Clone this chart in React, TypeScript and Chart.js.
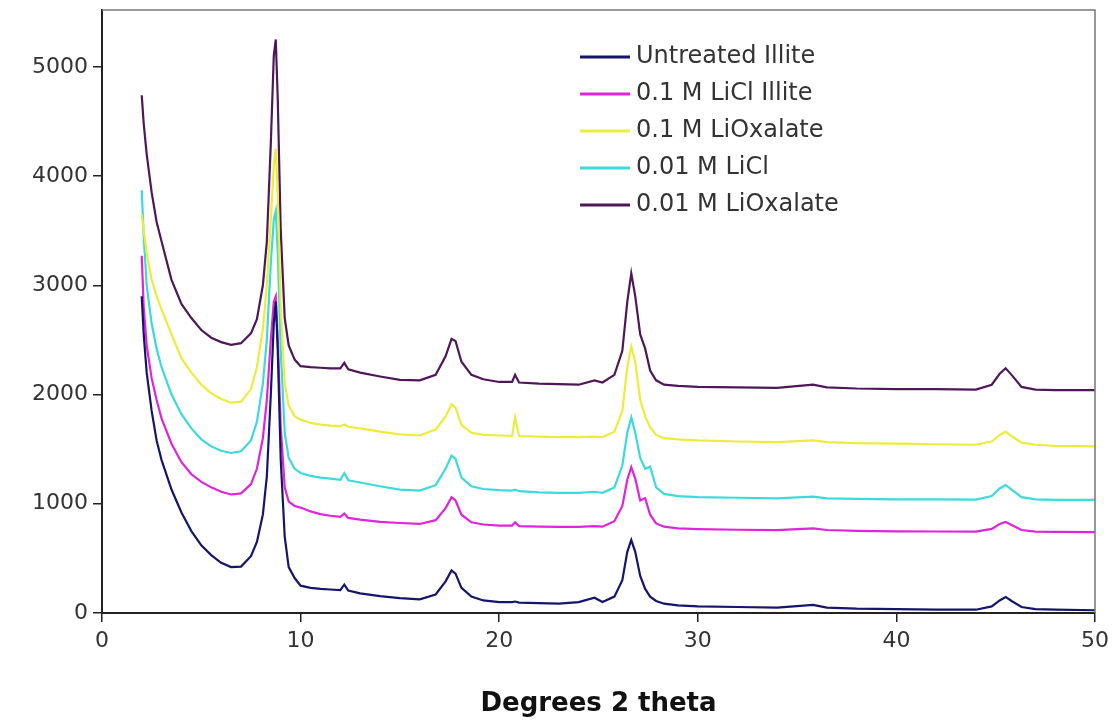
import React, { useEffect, useRef } from "react";
import { Chart, registerables } from "chart.js";

Chart.register(...registerables);

// Shared 2-theta sample positions
const theta = [
  2, 2.1, 2.25, 2.5, 2.75, 3, 3.5, 4, 4.5, 5,
  5.5, 6, 6.5, 7, 7.5, 7.8, 8.1, 8.3, 8.5, 8.65,
  8.75, 8.85, 9.0, 9.2, 9.4, 9.7, 10, 10.5, 11, 11.5,
  12, 12.2, 12.4, 13, 14, 15, 16, 16.8, 17.3, 17.6,
  17.8, 18.1, 18.6, 19.2, 20, 20.65, 20.8, 21, 22, 23,
  24, 24.8, 25.2, 25.8, 26.2, 26.45, 26.65, 26.85, 27.1, 27.35,
  27.6, 27.9, 28.3, 29, 30, 32, 34, 35.8, 36.5, 38,
  40, 42, 44, 44.8, 45.2, 45.5, 45.8, 46.3, 47, 48,
  50,
];

const untreatedIllite = [
  2900, 2550, 2200, 1850, 1580, 1400, 1130, 920, 750, 620,
  530, 460, 420, 425, 520, 650, 900, 1250, 2000, 2650,
  2850, 2400, 1400, 700, 420, 320, 250, 230, 220, 215,
  210, 260, 205, 180, 155, 137, 125, 170, 290, 390,
  360, 230, 150, 115, 100, 100, 105, 95, 90, 85,
  100, 140, 100, 150, 300, 560, 668, 560, 340, 220,
  150, 110, 85, 70, 60, 55, 50, 75, 50, 40,
  35, 30, 30, 60, 115, 147, 110, 55, 35, 30,
  25,
];

const liCl01Illite = [
  3270, 2800, 2450, 2150, 1950, 1780, 1550, 1380, 1270, 1200,
  1150, 1110, 1085, 1095, 1180, 1320, 1600, 1950, 2500, 2850,
  2900, 2500, 1700, 1150, 1020, 980, 965, 930, 905, 890,
  880, 910, 870, 855, 835, 824, 815, 850, 960, 1060,
  1030, 900, 830, 810, 800, 800, 830, 795, 790, 788,
  788, 795, 790, 840, 980, 1220, 1335, 1230, 1030, 1050,
  900, 820, 790, 775, 768, 762, 758, 775, 760, 752,
  748, 746, 745, 770, 815, 833, 805, 760, 745, 742,
  740,
];

const liOxalate01 = [
  3650, 3500, 3300, 3050, 2900, 2780, 2550, 2330, 2200, 2090,
  2010, 1960, 1925, 1935, 2050, 2250, 2600, 3000, 3600, 4100,
  4250, 3800, 2800, 2100, 1900, 1800, 1770, 1740, 1725, 1715,
  1710, 1725, 1705, 1690, 1660, 1635, 1625, 1680, 1800, 1910,
  1880, 1720, 1650, 1630, 1625, 1622, 1790, 1620, 1615, 1610,
  1610, 1615, 1610, 1660, 1850, 2250, 2440, 2300, 1950, 1800,
  1700, 1630, 1600, 1590, 1580, 1570, 1565, 1580, 1565, 1555,
  1550, 1545, 1540, 1570, 1630, 1660, 1620, 1560, 1540, 1530,
  1525,
];

const liCl001 = [
  3870, 3450, 3000, 2650, 2420, 2250, 2000, 1820, 1690, 1590,
  1525, 1485, 1465, 1480, 1580, 1750, 2100, 2500, 3200, 3600,
  3680, 3300, 2400, 1650, 1420, 1320, 1282, 1255, 1240, 1230,
  1220, 1280, 1215, 1195, 1160, 1130, 1120, 1170, 1320, 1440,
  1410, 1240, 1160, 1135, 1125, 1120, 1130, 1115, 1105, 1100,
  1099, 1110, 1100, 1150, 1350, 1650, 1790, 1650, 1420, 1320,
  1340, 1150, 1090, 1070, 1060, 1055, 1050, 1065, 1050, 1045,
  1040, 1040, 1038, 1070, 1140, 1172, 1130, 1060, 1040, 1035,
  1035,
];

const liOxalate001 = [
  4740, 4480, 4200, 3850, 3580, 3400, 3050, 2830, 2700, 2590,
  2520, 2480, 2455, 2470, 2560, 2690, 3000, 3400, 4300, 5100,
  5250, 4700, 3500, 2700, 2450, 2320, 2260, 2250, 2245, 2240,
  2240, 2290, 2230, 2200, 2165, 2134, 2130, 2180, 2350, 2510,
  2490, 2300, 2180, 2140, 2115, 2115, 2180, 2110, 2100, 2095,
  2090, 2130, 2110, 2180, 2400, 2850, 3110, 2900, 2550, 2420,
  2220, 2130, 2090, 2080, 2070, 2065, 2060, 2090, 2065, 2055,
  2050, 2050, 2045, 2090, 2190, 2240, 2180, 2070, 2045, 2040,
  2040,
];

const seriesLabels = [
  "Untreated Illite",
  "0.1 M LiCl Illite",
  "0.1 M LiOxalate",
  "0.01 M LiCl",
  "0.01 M LiOxalate",
];
const seriesColors = ["#15156b", "#e024dc", "#ecec3c", "#3cdada", "#4e1858"];

const yTickValues = [0, 1000, 2000, 3000, 4000, 5000];
const xTitle = "Degrees 2 theta";

export default function App() {
  const ref = useRef<HTMLCanvasElement>(null);

  useEffect(() => {
    document.body.style.margin = "0";
    const canvas = ref.current;
    if (!canvas) return;
    const series = [untreatedIllite, liCl01Illite, liOxalate01, liCl001, liOxalate001];

    const framePlugin = {
      id: "frame",
      afterDatasetsDraw(chart: any) {
        const { ctx, chartArea } = chart;
        ctx.save();
        ctx.strokeStyle = "#777";
        ctx.lineWidth = 1.5;
        ctx.beginPath();
        ctx.moveTo(chartArea.left, chartArea.top);
        ctx.lineTo(chartArea.right, chartArea.top);
        ctx.lineTo(chartArea.right, chartArea.bottom);
        ctx.stroke();
        ctx.restore();
      },
    };

    const legendPlugin = {
      id: "insideLegend",
      afterDraw(chart: any) {
        const { ctx } = chart;
        ctx.save();
        chart.data.datasets.forEach((ds: any, i: number) => {
          const y = 57 + i * 37;
          ctx.strokeStyle = ds.borderColor;
          ctx.lineWidth = 3;
          ctx.beginPath();
          ctx.moveTo(580, y);
          ctx.lineTo(630, y);
          ctx.stroke();
          ctx.fillStyle = "#333";
          ctx.font = "24px 'DejaVu Sans'";
          ctx.textBaseline = "middle";
          ctx.textAlign = "left";
          ctx.fillText(ds.label, 636, y);
        });
        ctx.restore();
      },
    };

    const chart = new Chart(canvas, {
      type: "line",
      data: {
        datasets: series.map((vals, i) => ({
          label: seriesLabels[i],
          data: vals.map((v, j) => ({ x: theta[j], y: v })),
          borderColor: seriesColors[i],
          backgroundColor: seriesColors[i],
          borderWidth: 2.2,
          pointRadius: 0,
          fill: false,
          tension: 0,
        })),
      },
      options: {
        responsive: false,
        animation: false,
        layout: { padding: { top: 10, right: 22, left: 0, bottom: 0 } },
        plugins: { legend: { display: false }, tooltip: { enabled: false } },
        scales: {
          x: {
            type: "linear",
            min: 0,
            max: 50,
            ticks: {
              stepSize: 10,
              color: "#333",
              padding: 6,
              font: { family: "'DejaVu Sans'", size: 22 },
            },
            grid: { drawOnChartArea: false, drawTicks: true, tickLength: 9, color: "#222", lineWidth: 1.5 },
            border: { display: true, color: "#222", width: 2 },
            title: {
              display: true,
              text: xTitle,
              color: "#111",
              font: { family: "'DejaVu Sans'", size: 26, weight: "bold" },
              padding: { top: 4, bottom: 4 },
            },
            afterFit: (s: any) => {
              s.height = 111;
              s.paddingLeft = 0;
              s.paddingRight = 0;
            },
          },
          y: {
            type: "linear",
            min: 0,
            max: 5520,
            ticks: {
              autoSkip: false,
              color: "#333",
              padding: 5,
              font: { family: "'DejaVu Sans'", size: 22 },
              callback: (v: any) => String(v),
            },
            afterBuildTicks: (s: any) => {
              s.ticks = yTickValues.map((v) => ({ value: v }));
            },
            grid: { drawOnChartArea: false, drawTicks: true, tickLength: 9, color: "#222", lineWidth: 1.5 },
            border: { display: true, color: "#222", width: 2 },
            afterFit: (s: any) => {
              s.width = 102;
              s.paddingTop = 0;
              s.paddingBottom = 0;
            },
          },
        },
      },
      plugins: [framePlugin, legendPlugin],
    } as any);

    return () => chart.destroy();
  }, []);

  return (
    <div style={{ position: "absolute", left: 0, top: 0, width: 1117, height: 724, background: "#fff" }}>
      <canvas ref={ref} width={1117} height={724} style={{ display: "block" }} />
    </div>
  );
}
